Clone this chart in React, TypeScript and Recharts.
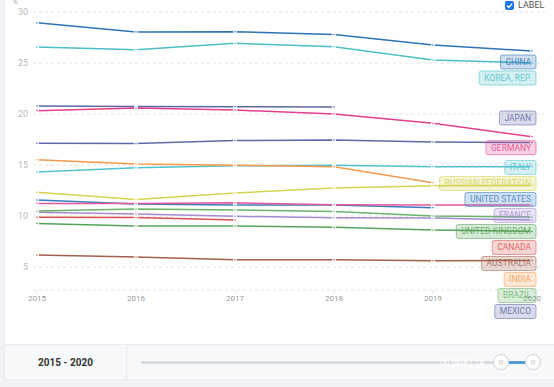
import { LineChart, Line, XAxis, YAxis, CartesianGrid, LabelList } from "recharts";

const years = [2015, 2016, 2017, 2018, 2019, 2020];
const yTicks = [5, 10, 15, 20, 25, 30];

const china = [28.95, 28.05, 28.07, 27.8, 26.76, 26.18];
const korea = [26.57, 26.3, 26.93, 26.6, 25.3, 25.0];
const japan = [20.78, 20.74, 20.72, 20.69, null, null];
const germany = [20.33, 20.59, 20.39, 20.0, 19.09, 17.78];
const mexico = [17.13, 17.1, 17.4, 17.45, 17.25, 17.2];
const india = [15.52, 15.1, 14.97, 14.84, 13.27, null];
const italy = [14.31, 14.74, 14.93, 14.97, 14.84, 14.84];
const russia = [12.32, 11.63, 12.26, 12.75, 12.97, 13.0];
const unitedStates = [11.57, 11.18, 11.08, 11.08, 10.82, null];
const spain = [11.24, 11.24, 11.3, 11.11, 11.08, 11.08];
const brazil = [10.49, 10.69, 10.59, 10.44, 10.0, 9.9];
const france = [10.36, 10.2, 9.97, 9.83, 9.8, 9.6];
const canada = [9.87, 9.85, 9.6, null, null, null];
const unitedKingdom = [9.28, 9.02, 9.02, 8.89, 8.63, 8.5];
const australia = [6.18, 5.98, 5.72, 5.72, 5.62, 5.65];

type Series = { name: string; values: (number | null)[]; color: string; label: boolean };

const series: Series[] = [
    { name: "CHINA", values: china, color: "#2d74b6", label: true },
    { name: "KOREA, REP.", values: korea, color: "#4cbfc8", label: true },
    { name: "JAPAN", values: japan, color: "#5b6aa3", label: true },
    { name: "GERMANY", values: germany, color: "#e23f8d", label: true },
    { name: "ITALY", values: italy, color: "#52c2cf", label: true },
    { name: "RUSSIAN FEDERATION", values: russia, color: "#d6d24f", label: true },
    { name: "UNITED STATES", values: unitedStates, color: "#3a7cc0", label: true },
    { name: "FRANCE", values: france, color: "#a48bd0", label: true },
    { name: "UNITED KINGDOM", values: unitedKingdom, color: "#55a458", label: true },
    { name: "CANADA", values: canada, color: "#d9504c", label: true },
    { name: "AUSTRALIA", values: australia, color: "#a2614b", label: true },
    { name: "INDIA", values: india, color: "#f79a4e", label: true },
    { name: "BRAZIL", values: brazil, color: "#68b56a", label: true },
    { name: "MEXICO", values: mexico, color: "#5d69a6", label: true },
    { name: "SPAIN", values: spain, color: "#e5589b", label: false },
];

const data = years.map((year, i) => {
    const row: Record<string, number | null> = { year };
    series.forEach((s) => (row[s.name] = s.values[i]));
    return row;
});

// layout
const W = 554;
const H = 345;
const TOP = 12;
const BOTTOM = 290;
const Y_MIN = 2.75;
const Y_MAX = 30;
const LABEL_RIGHT = 536;
const LABEL_H = 14;
const GAP = 16;
const LABEL_MAX_Y = 311.5;
const LABEL_FONT = 8.5;

const yPx = (v: number) => TOP + ((Y_MAX - v) / (Y_MAX - Y_MIN)) * (BOTTOM - TOP);

const lastIndex = (vals: (number | null)[]) => {
    let k = -1;
    vals.forEach((v, i) => {
        if (v != null) k = i;
    });
    return k;
};

// stack the end labels so they do not overlap
function labelOffsets() {
    const items = series.filter((s) => s.label);
    const anchors = items.map((s) => yPx(s.values[lastIndex(s.values)] as number));
    const pos: number[] = [];
    anchors.forEach((a, i) => {
        const ideal = a + 11;
        pos[i] = i === 0 ? ideal : Math.max(ideal, pos[i - 1] + GAP);
    });
    const n = pos.length;
    if (pos[n - 1] > LABEL_MAX_Y) {
        pos[n - 1] = LABEL_MAX_Y;
        for (let i = n - 2; i >= 0; i--) pos[i] = Math.min(pos[i], pos[i + 1] - GAP);
    }
    const out: Record<string, number> = {};
    items.forEach((s, i) => (out[s.name] = pos[i] - anchors[i]));
    return out;
}
const offsets = labelOffsets();

let ctx: CanvasRenderingContext2D | null = null;
function textWidth(t: string) {
    if (!ctx) {
        ctx = document.createElement("canvas").getContext("2d");
    }
    if (!ctx) return t.length * 5;
    ctx.font = `${LABEL_FONT}px Roboto`;
    return ctx.measureText(t).width;
}

function hexA(hex: string, a: number) {
    const r = parseInt(hex.slice(1, 3), 16);
    const g = parseInt(hex.slice(3, 5), 16);
    const b = parseInt(hex.slice(5, 7), 16);
    return `rgba(${r},${g},${b},${a})`;
}

function EndLabel(s: Series) {
    const last = lastIndex(s.values);
    return (props: any) => {
        if (props.index !== last || props.y == null) return null;
        const cy = Number(props.y) + offsets[s.name];
        const w = textWidth(s.name) + 10;
        return (
            <g>
                <rect
                    x={LABEL_RIGHT - w}
                    y={cy - LABEL_H / 2}
                    width={w}
                    height={LABEL_H}
                    rx={2}
                    fill={hexA(s.color, 0.24)}
                    stroke={hexA(s.color, 0.55)}
                    strokeWidth={1}
                />
                <text
                    x={LABEL_RIGHT - 5}
                    y={cy}
                    dy="0.35em"
                    textAnchor="end"
                    fontSize={LABEL_FONT}
                    fontFamily="Roboto"
                    fill={hexA(s.color, 0.85)}
                >
                    {s.name}
                </text>
            </g>
        );
    };
}

export default function App() {
    return (
        <div
            style={{
                position: "relative",
                width: W,
                height: 387,
                background: "#f0f2f5",
                overflow: "hidden",
                fontFamily: "Roboto, sans-serif",
            }}
        >
            <style>{"body{margin:0}"}</style>
            <div style={{ position: "absolute", left: 5, top: 0, width: W - 5, height: 344, background: "#fff" }} />

            <div style={{ position: "absolute", left: 0, top: 0 }}>
                <LineChart
                    width={W}
                    height={H}
                    data={data}
                    margin={{ top: TOP, right: 9, left: 0, bottom: H - BOTTOM - 20 }}
                >
                    <CartesianGrid vertical={false} stroke="#e2e2e2" strokeDasharray="3 3" />
                    <XAxis
                        dataKey="year"
                        type="number"
                        domain={[2015, 2020]}
                        ticks={years}
                        padding={{ left: 4, right: 13 }}
                        axisLine={false}
                        tickLine={{ stroke: "#e6e6e6" }}
                        tickSize={3}
                        tickMargin={2}
                        height={20}
                        tick={{ fill: "#9a9a9a", fontSize: 8 }}
                    />
                    <YAxis
                        type="number"
                        domain={[Y_MIN, Y_MAX]}
                        ticks={yTicks}
                        allowDataOverflow
                        axisLine={false}
                        tickLine={false}
                        tickSize={0}
                        tickMargin={5}
                        width={33}
                        tick={{ fill: "#b8b8b8", fontSize: 9 }}
                    />
                    {series.map((s) => (
                        <Line
                            key={s.name}
                            dataKey={s.name}
                            type="linear"
                            stroke={s.color}
                            strokeWidth={1.5}
                            dot={{ r: 1.4, fill: s.color, stroke: "#fff", strokeWidth: 1.2 }}
                            activeDot={false}
                            isAnimationActive={false}
                        >
                            {s.label && <LabelList dataKey={s.name} content={EndLabel(s)} />}
                        </Line>
                    ))}
                </LineChart>
            </div>

            <div style={{ position: "absolute", left: 12, top: -3, fontSize: 8, color: "#aaa" }}>%</div>

            <div
                style={{
                    position: "absolute",
                    left: 505,
                    top: 1,
                    width: 9,
                    height: 9,
                    borderRadius: 2,
                    background: "#1a73e8",
                }}
            >
                <svg width={9} height={9} style={{ position: "absolute", left: 0, top: 0 }}>
                    <path d="M2 4.6 L3.8 6.4 L7.2 2.6" stroke="#fff" strokeWidth={1.4} fill="none" />
                </svg>
            </div>
            <div style={{ position: "absolute", left: 518, top: 0, fontSize: 9, lineHeight: "11px", color: "#555" }}>
                LABEL
            </div>

            <div
                style={{
                    position: "absolute",
                    left: 4,
                    top: 344,
                    width: W - 4,
                    height: 36,
                    background: "#f7f8fa",
                    borderTop: "1px solid #e9ebee",
                    borderBottom: "1px solid #e9ebee",
                    borderLeft: "1px solid #e9ebee",
                    boxSizing: "border-box",
                }}
            >
                <div
                    style={{
                        position: "absolute",
                        left: 0,
                        top: 0,
                        width: 121,
                        height: 34,
                        borderRight: "1px solid #e9ebee",
                        display: "flex",
                        alignItems: "center",
                        justifyContent: "center",
                        fontSize: 10,
                        fontWeight: 700,
                        color: "#333",
                    }}
                >
                    2015 - 2020
                </div>
                <div
                    style={{
                        position: "absolute",
                        left: 136,
                        top: 16,
                        width: 362,
                        height: 3,
                        borderRadius: 2,
                        background: "#d8dbe0",
                    }}
                />
                <div
                    style={{
                        position: "absolute",
                        left: 496,
                        top: 16,
                        width: 32,
                        height: 3,
                        background: "#5b9bd5",
                    }}
                />
                <div
                    style={{
                        position: "absolute",
                        left: 434,
                        top: 9,
                        fontSize: 12,
                        lineHeight: "16px",
                        color: "rgba(255,255,255,0.9)",
                        fontFamily: "'Noto Sans CJK SC'",
                    }}
                >
                    风闻社区
                </div>
                {[496, 528].map((cx) => (
                    <div
                        key={cx}
                        style={{
                            position: "absolute",
                            left: cx - 8,
                            top: 9,
                            width: 16,
                            height: 16,
                            borderRadius: 8,
                            background: "#fff",
                            border: "1px solid #cfd3d8",
                            boxSizing: "border-box",
                            fontSize: 6,
                            color: "#aaa",
                            textAlign: "center",
                            lineHeight: "14px",
                        }}
                    >
                        |||
                    </div>
                ))}
            </div>
        </div>
    );
}
